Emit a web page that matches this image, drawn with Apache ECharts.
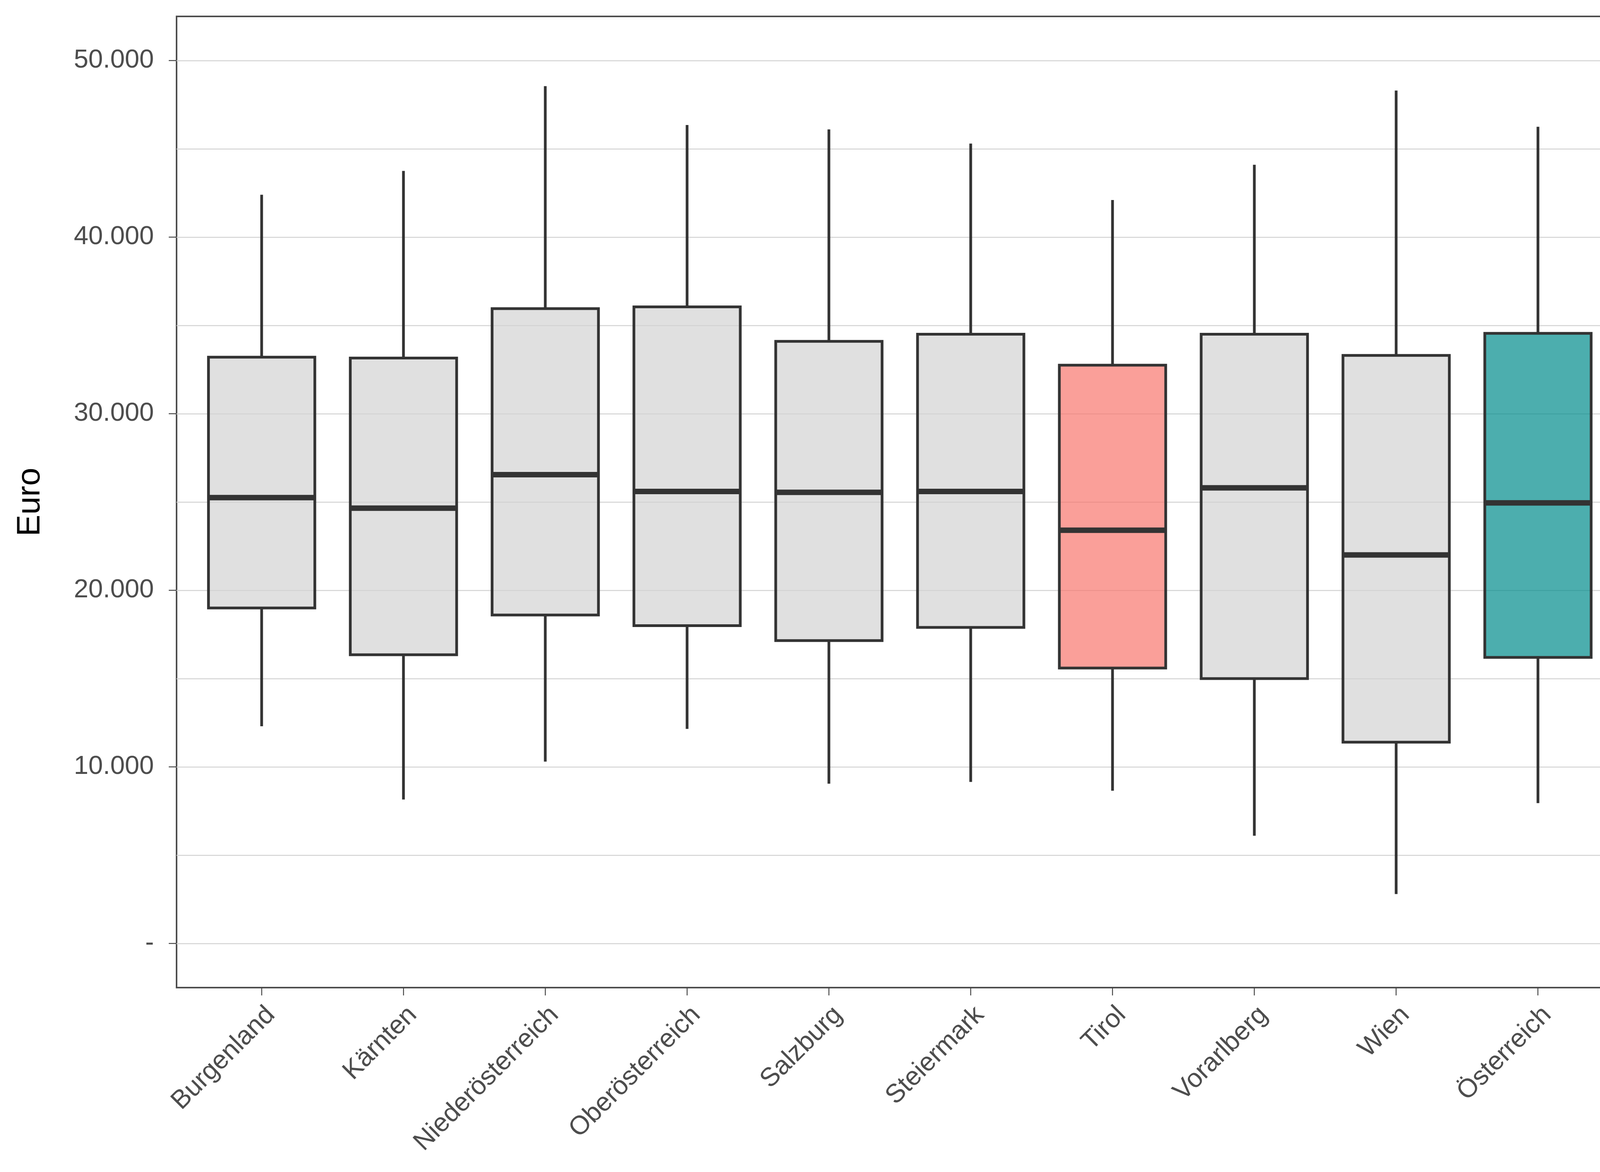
<!DOCTYPE html>
<html>
<head>
<meta charset="utf-8">
<script src="https://cdn.jsdelivr.net/npm/echarts@6/dist/echarts.min.js"></script>
<style>
  html, body { margin: 0; padding: 0; background: #ffffff; }
  #chart { width: 4200px; height: 3000px; }
</style>
</head>
<body>
<div id="chart"></div>
<script>
// ---- data ----
const categories = ['Burgenland', 'Kärnten', 'Niederösterreich', 'Oberösterreich', 'Salzburg',
                    'Steiermark', 'Tirol', 'Vorarlberg', 'Wien', 'Österreich'];
const whiskerLow  = [12300,  8150, 10300, 12150,  9050,  9150,  8650,  6100,  2800,  7950];
const quartile1   = [19000, 16350, 18600, 18000, 17150, 17900, 15600, 15000, 11400, 16200];
const medianVal   = [25250, 24650, 26550, 25600, 25550, 25600, 23400, 25800, 22000, 24950];
const quartile3   = [33200, 33150, 35950, 36050, 34100, 34500, 32750, 34500, 33300, 34550];
const whiskerHigh = [42400, 43750, 48550, 46350, 46100, 45300, 42100, 44100, 48300, 46250];
const yTickValues = [0, 10000, 20000, 30000, 40000, 50000];
const gridValues  = [0, 5000, 10000, 15000, 20000, 25000, 30000, 35000, 40000, 45000, 50000];

// ---- styles ----
const GREY = 'rgba(211,211,211,0.7)';
const PINK = 'rgba(248,118,109,0.7)';
const TEAL = 'rgba(0,139,139,0.7)';
const fillColors = [GREY, GREY, GREY, GREY, GREY, GREY, PINK, GREY, GREY, TEAL];
const FONT = "'Liberation Sans', Arial, Helvetica, sans-serif";
const LINE = '#333333';
const LW = 7;

const positions = categories.map((c, i) => i + 1);
const boxData = categories.map((c, i) => [positions[i], whiskerLow[i], quartile1[i], medianVal[i], quartile3[i], whiskerHigh[i]]);

function fmtEuro(v) {
  if (v === 0) return '-';
  return String(Math.round(v)).replace(/\B(?=(\d{3})+(?!\d))/g, '.');
}

function renderBox(params, api) {
  const x = api.value(0);
  const lo = api.coord([x, api.value(1)]);
  const q1 = api.coord([x, api.value(2)]);
  const md = api.coord([x, api.value(3)]);
  const q3 = api.coord([x, api.value(4)]);
  const hi = api.coord([x, api.value(5)]);
  const halfW = api.size([0.75, 0])[0] / 2;
  const cx = q1[0];
  return {
    type: 'group',
    children: [
      { type: 'line', shape: { x1: cx, y1: lo[1], x2: cx, y2: q1[1] },
        style: { stroke: LINE, lineWidth: LW, lineCap: 'butt' } },
      { type: 'line', shape: { x1: cx, y1: q3[1], x2: cx, y2: hi[1] },
        style: { stroke: LINE, lineWidth: LW, lineCap: 'butt' } },
      { type: 'rect', shape: { x: cx - halfW, y: q3[1], width: 2 * halfW, height: q1[1] - q3[1] },
        style: { fill: fillColors[params.dataIndex], stroke: LINE, lineWidth: LW, lineJoin: 'miter' } },
      { type: 'line', shape: { x1: cx - halfW, y1: md[1], x2: cx + halfW, y2: md[1] },
        style: { stroke: LINE, lineWidth: 2 * LW, lineCap: 'butt' } }
    ]
  };
}

const chart = echarts.init(document.getElementById('chart'), null, { renderer: 'canvas', devicePixelRatio: 1 });
chart.setOption({
  animation: false,
  backgroundColor: '#ffffff',
  grid: {
    left: 452, right: 45, top: 42, bottom: 472,
    show: true, borderColor: '#4D4D4D', borderWidth: 4, backgroundColor: 'transparent'
  },
  xAxis: {
    type: 'value',
    min: 0.4, max: 10.6,
    axisLine: { show: false, onZero: false },
    splitLine: { show: false },
    axisTick: { show: true, length: 20, customValues: positions,
                lineStyle: { color: '#444444', width: 2.4 } },
    axisLabel: {
      customValues: positions,
      formatter: v => categories[Math.round(v) - 1] || '',
      rotate: 45, align: 'right', verticalAlign: 'top', margin: 36,
      fontFamily: FONT, fontSize: 67, color: '#4D4D4D'
    }
  },
  yAxis: {
    type: 'value',
    min: -2500, max: 52500,
    name: 'Euro', nameLocation: 'middle', nameRotate: 90, nameGap: 332,
    nameTextStyle: { fontFamily: FONT, fontSize: 83, color: '#000000' },
    axisLine: { show: false, onZero: false },
    splitLine: { show: false },
    axisTick: { show: true, length: 20, customValues: yTickValues,
                lineStyle: { color: '#444444', width: 2.4 } },
    axisLabel: {
      customValues: yTickValues,
      formatter: fmtEuro, margin: 58,
      fontFamily: FONT, fontSize: 67, color: '#4D4D4D'
    }
  },
  series: [
    {
      type: 'line', data: [], z: 1, silent: true,
      markLine: {
        silent: true, symbol: ['none', 'none'], z: 1,
        label: { show: false },
        lineStyle: { color: '#D3D3D3', width: 2.5, type: 'solid' },
        emphasis: { disabled: true },
        data: gridValues.map(v => ({ yAxis: v }))
      }
    },
    {
      type: 'custom', z: 3, silent: true,
      renderItem: renderBox,
      encode: { x: 0, y: [1, 2, 3, 4, 5] },
      data: boxData
    }
  ]
});
</script>
</body>
</html>
